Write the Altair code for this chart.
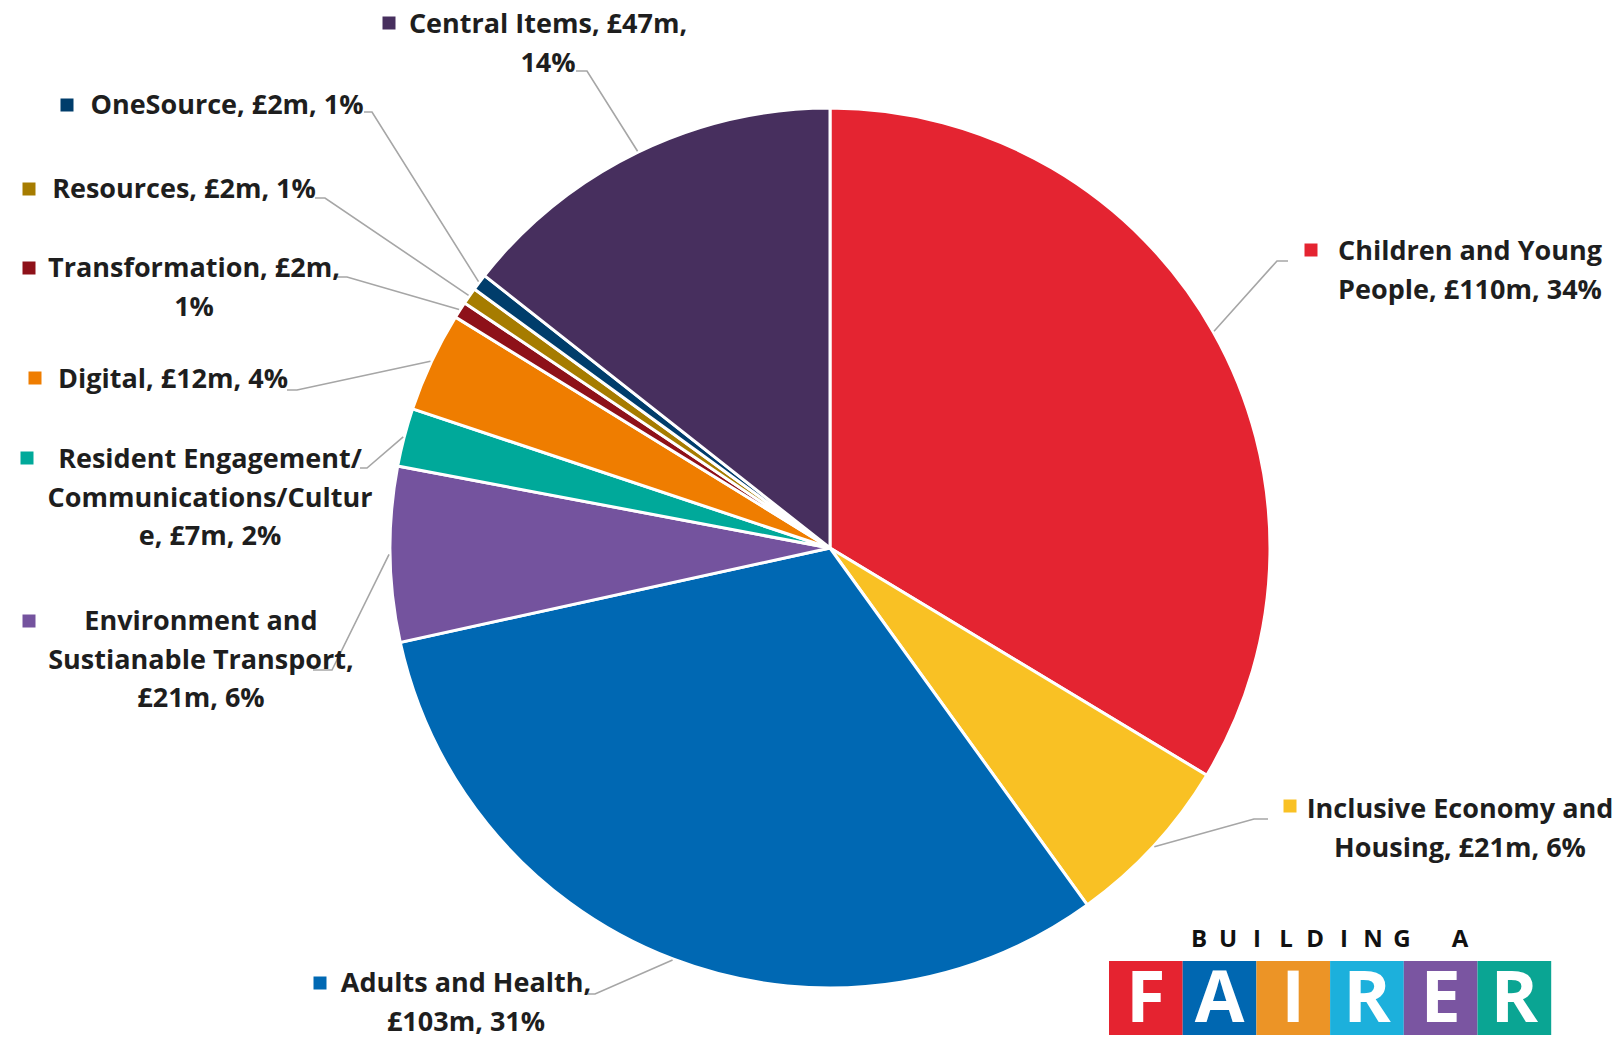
import altair as alt
import pandas as pd
import numpy as np

# ---------------- data ----------------
categories = [
    "Children and Young People",
    "Inclusive Economy and Housing",
    "Adults and Health",
    "Environment and Sustainable Transport",
    "Resident Engagement/Communications/Culture",
    "Digital",
    "Transformation",
    "Resources",
    "OneSource",
    "Central Items",
]
values = [110, 21, 103, 21, 7, 12, 2, 2, 2, 47]
colors = ["#E42431", "#F9C124", "#0068B3", "#74539E", "#00A99A",
          "#EF7D00", "#8E1119", "#A67C00", "#003D6B", "#472F5E"]
label_lines = [
    ["Children and Young", "People, £110m, 34%"],
    ["Inclusive Economy and", "Housing, £21m, 6%"],
    ["Adults and Health,", "£103m, 31%"],
    ["Environment and", "Sustianable Transport,", "£21m, 6%"],
    ["Resident Engagement/", "Communications/Cultur", "e, £7m, 2%"],
    ["Digital, £12m, 4%"],
    ["Transformation, £2m,", "1%"],
    ["Resources, £2m, 1%"],
    ["OneSource, £2m, 1%"],
    ["Central Items, £47m,", "14%"],
]
logo_top = list("BUILDING A")
logo_letters = list("FAIRER")
logo_colors = ["#E52330", "#0067B1", "#EC9426", "#1CB0DC", "#7A55A1", "#0AA593"]

# ---------------- layout (page pixel coordinates) ----------------
CX, CY, R = 830, 548, 440
LINE_H = 38.5
label_anchor = [(1470, 252), (1460, 810), (466, 984), (201, 622), (210, 460),
                (173, 380), (194, 269), (184, 190), (227, 106), (548, 25)]
marker_pos = [(1311, 250), (1290, 806), (320, 983), (29, 621), (27, 458),
              (35, 378), (29, 268), (29, 189), (67, 105), (389, 23)]
leader_start = [(1288, 261), (1268, 819), (588, 994), (313, 670), (360, 468),
                (287, 390), (337, 277), (315, 198), (364, 112), (576, 71)]
leader_elbow = [(1277, 261), (1254, 819), (595, 994), (332, 670), (367, 468),
                (297, 390), (347, 277), (325, 198), (372, 112), (587, 71)]

# ---------------- tables ----------------
pie_df = pd.DataFrame({"category": categories, "value": values, "idx": range(len(values))})

total = float(sum(values))
cum = np.cumsum(values)
mid = (cum - np.array(values) / 2.0) / total * 2 * np.pi

text_rows, marker_rows, leader_rows = [], [], []
for i, cat in enumerate(categories):
    ax, ay = label_anchor[i]
    for j, line in enumerate(label_lines[i]):
        text_rows.append({"category": cat, "line": line, "x": ax, "y": ay + j * LINE_H})
    mx, my = marker_pos[i]
    marker_rows.append({"category": cat, "x": mx, "y": my})
    ex = CX + (R + 1) * np.sin(mid[i])
    ey = CY - (R + 1) * np.cos(mid[i])
    pts = [leader_start[i], leader_elbow[i], (ex, ey)]
    for k, (px, py) in enumerate(pts):
        leader_rows.append({"category": cat, "o": k, "x": px, "y": py})

text_df = pd.DataFrame(text_rows)
marker_df = pd.DataFrame(marker_rows)
leader_df = pd.DataFrame(leader_rows)

box_w = 73.7
logo_df = pd.DataFrame({
    "letter": logo_letters,
    "color": logo_colors,
    "x": [1109 + i * box_w for i in range(6)],
    "x2": [1109 + (i + 1) * box_w for i in range(6)],
    "xc": [1109 + (i + 0.5) * box_w for i in range(6)],
})
top_df = pd.DataFrame({"ch": logo_top, "x": [1199 + i * 29.0 for i in range(len(logo_top))]})

# ---------------- scales ----------------
XS = alt.Scale(domain=[8, 1613], nice=False, zero=False)
YS = alt.Scale(domain=[8, 1037], nice=False, zero=False, reverse=True)
CS = alt.Scale(domain=categories, range=colors)

pie = alt.Chart(pie_df).mark_arc(radius=R, stroke="white", strokeWidth=3).encode(
    theta=alt.Theta("value:Q", stack=True),
    order=alt.Order("idx:Q"),
    color=alt.Color("category:N", scale=CS, legend=None),
    x=alt.XDatum(CX, type="quantitative", scale=XS, axis=None),
    y=alt.YDatum(CY, type="quantitative", scale=YS, axis=None),
)

leaders = alt.Chart(leader_df).mark_line(color="#A6A6A6", strokeWidth=1.6).encode(
    x=alt.X("x:Q", scale=XS, axis=None),
    y=alt.Y("y:Q", scale=YS, axis=None),
    detail="category:N",
    order="o:Q",
)

markers = alt.Chart(marker_df).mark_square(size=169, opacity=1).encode(
    x=alt.X("x:Q", scale=XS, axis=None),
    y=alt.Y("y:Q", scale=YS, axis=None),
    color=alt.Color("category:N", scale=CS, legend=None),
)

labels = alt.Chart(text_df).mark_text(
    font="Open Sans", fontWeight="bold", fontSize=27, color="#1E1E1E",
    align="center", baseline="middle",
).encode(
    x=alt.X("x:Q", scale=XS, axis=None),
    y=alt.Y("y:Q", scale=YS, axis=None),
    text="line:N",
)

boxes = alt.Chart(logo_df).mark_rect().encode(
    x=alt.X("x:Q", scale=XS, axis=None),
    x2="x2:Q",
    y=alt.YDatum(961, type="quantitative", scale=YS, axis=None),
    y2=alt.Y2Datum(1035),
    color=alt.Color("color:N", scale=None),
)

box_letters = alt.Chart(logo_df).mark_text(
    font="Open Sans", fontWeight="bold", fontSize=72, color="white",
    align="center", baseline="middle",
).encode(
    x=alt.X("xc:Q", scale=XS, axis=None),
    y=alt.YDatum(1000, type="quantitative", scale=YS, axis=None),
    text="letter:N",
)

top_letters = alt.Chart(top_df).mark_text(
    font="Open Sans", fontWeight="bold", fontSize=24, color="#111111",
    align="center", baseline="middle",
).encode(
    x=alt.X("x:Q", scale=XS, axis=None),
    y=alt.YDatum(940, type="quantitative", scale=YS, axis=None),
    text="ch:N",
)

chart = alt.layer(pie, leaders, markers, labels, boxes, box_letters, top_letters).properties(
    width=1605, height=1029,
    autosize=alt.AutoSizeParams(type="none"),
    padding=0,
    background="white",
).configure_view(stroke=None)

chart.save("out.html", embed_options={"renderer": "svg", "actions": False})
